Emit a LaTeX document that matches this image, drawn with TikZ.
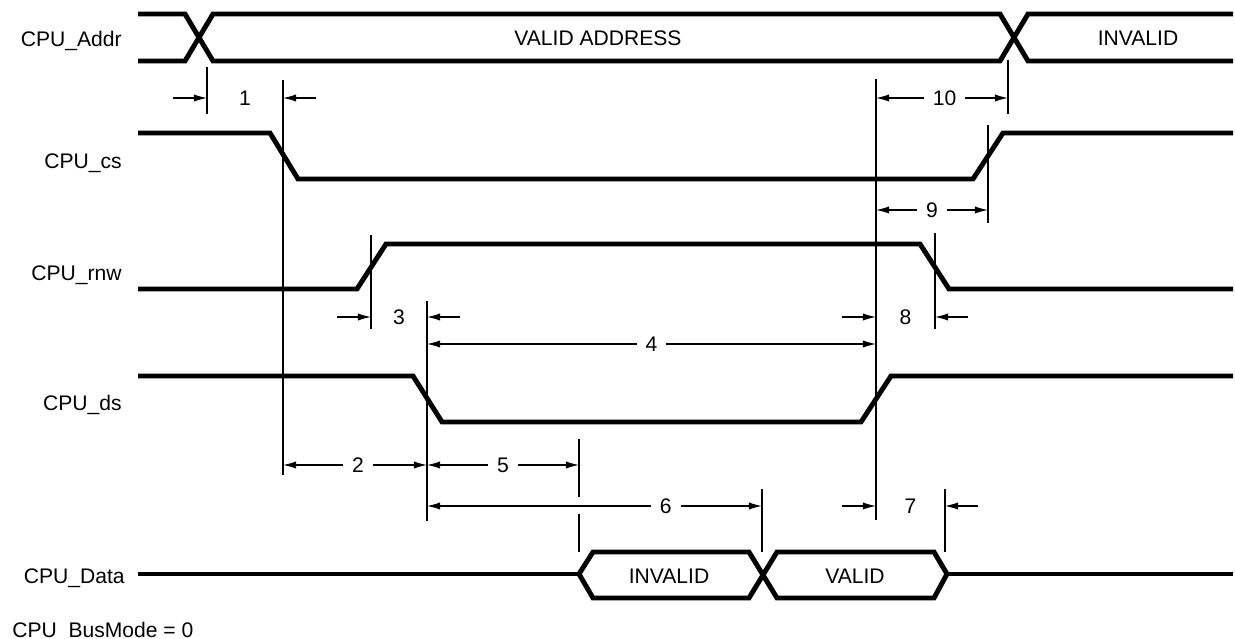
\documentclass[tikz,border=0pt]{standalone}
\usepackage{fontspec}
\setmainfont{Liberation Sans}
\usepackage{tikz}
\usetikzlibrary{arrows.meta, positioning}

\begin{document}
\begin{tikzpicture}[
    x=0.02cm, y=-0.02cm,
    sig/.style={line width=2.8pt},
    guide/.style={line width=0.7pt},
    dim/.style={line width=0.7pt, {Latex[length=7.5pt,width=4.2pt]}-{Latex[length=7.5pt,width=4.2pt]}},
    push/.style={line width=0.7pt, -{Latex[length=7.5pt,width=4.2pt]}},
    num/.style={fill=white, inner sep=5pt, font=\fontsize{12}{14}\selectfont},
    lbl/.style={anchor=base east, inner sep=0pt, font=\fontsize{12}{14}\selectfont},
    bus/.style={anchor=base, inner sep=0pt, font=\fontsize{12}{14}\selectfont}
]
\useasboundingbox (0,0) rectangle (1235,639);

% signal names
\node[lbl] (addr) at (122,47)  {CPU\_Addr};
\node[lbl] (cs)   at (122,168) {CPU\_cs};
\node[lbl] (rnw)  at (122,280) {CPU\_rnw};
\node[lbl] (ds)   at (122,410) {CPU\_ds};
\node[lbl] (data) at (125,583) {CPU\_Data};
\node[lbl, anchor=base west] (mode) at (12,637) {CPU\_BusMode = 0};

% waveforms
\draw[sig] (138,14) -- (185,14) -- (213,61) -- (1000,61) -- (1028,14) -- (1233,14);
\draw[sig] (138,61) -- (185,61) -- (213,14) -- (1000,14) -- (1028,61) -- (1233,61);
\draw[sig] (138,133) -- (270,133) -- (298,179) -- (973,179) -- (1003,133) -- (1233,133);
\draw[sig] (138,289) -- (357,289) -- (386,244) -- (920,244) -- (949,289) -- (1233,289);
\draw[sig] (138,376) -- (413,376) -- (442,422) -- (861,422) -- (891,376) -- (1233,376);
\draw[sig] (138,574) -- (579,574);
\draw[sig] (749,598) -- (593,598) -- (579,574) -- (593,552) -- (749,552) -- (777,598)
    -- (934,598) -- (947,574) -- (934,552) -- (777,552) -- cycle;
\draw[sig] (947,574) -- (1233,574);

\node[bus] (va)  at (598,46)   {VALID ADDRESS};
\node[bus] (ia)  at (1138,46)  {INVALID};
\node[bus] (id)  at (669,583)  {INVALID};
\node[bus] (vd)  at (855,583)  {VALID};

% edge markers
\foreach \x/\a/\b in {207/67/114, 283/80/475, 1008/60/114, 876/79/520, 988/125/223,
                      371/235/329, 427/301/521, 935/233/329, 579/439/497, 579/514/552,
                      762/489/552, 945/489/552}
    \draw[guide] (\x,\a) -- (\x,\b);

% timings measured between the markers
\foreach \a/\b/\y/\t/\p in {876/1008/98/10/0.52, 876/988/210/9/0.5, 427/876/344/4/0.5,
                            283/427/465/2/0.52, 427/579/465/5/0.5, 427/762/506/6/0.713} {
    \coordinate (l\t) at (\a,\y);
    \coordinate (r\t) at (\b,\y);
    \draw[dim] (l\t) -- node[num, pos=\p] (n\t) {\t} (r\t);
}

% timings with arrows from outside
\foreach \a/\b/\y/\t in {207/283/98/1, 371/427/317/3, 876/935/317/8, 876/945/506/7} {
    \coordinate (l\t) at (\a,\y);
    \coordinate (r\t) at (\b,\y);
    \path (l\t) -- node[num, fill=none] (n\t) {\t} (r\t);
    \draw[push] ([xshift=-0.68cm]l\t) -- (l\t);
    \draw[push] ([xshift=0.66cm]r\t) -- (r\t);
}
\end{tikzpicture}
\end{document}
